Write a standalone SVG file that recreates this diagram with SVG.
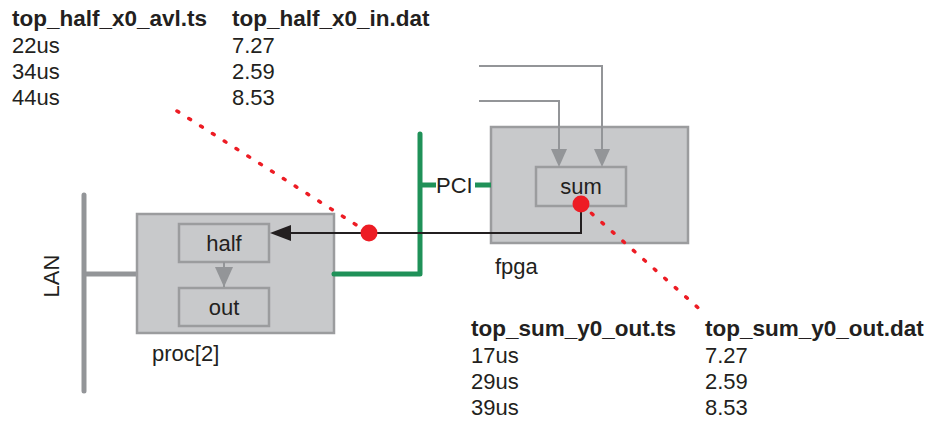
<svg xmlns="http://www.w3.org/2000/svg" width="933" height="423" viewBox="0 0 933 423">
<defs>
<style>
text{font-family:"Liberation Sans",Arial,sans-serif;fill:#231f20;font-size:22px}
.b{font-weight:bold;font-size:22.5px}
.box{fill:#c8c9cb;stroke:#9b9c9e;stroke-width:2.5}
.gray{fill:none;stroke:#939598;stroke-width:2}
.bus{fill:none;stroke:#939598;stroke-width:5;stroke-linecap:round}
.green{fill:none;stroke:#1f9158;stroke-width:5;stroke-linecap:round;stroke-linejoin:round}
.red{fill:none;stroke:#ed1c24;stroke-width:3.5;stroke-linecap:round;stroke-dasharray:2 12}
</style>
</defs>
<g id="tables">
<text class="b" x="12" y="26">top_half_x0_avl.ts</text>
<text x="12" y="53">22us</text>
<text x="12" y="79">34us</text>
<text x="12" y="105">44us</text>
<text class="b" x="232" y="26">top_half_x0_in.dat</text>
<text x="232" y="53">7.27</text>
<text x="232" y="79">2.59</text>
<text x="232" y="105">8.53</text>
<text class="b" x="471" y="336">top_sum_y0_out.ts</text>
<text x="471" y="363">17us</text>
<text x="471" y="389">29us</text>
<text x="471" y="415">39us</text>
<text class="b" x="705" y="336">top_sum_y0_out.dat</text>
<text x="705" y="363">7.27</text>
<text x="705" y="389">2.59</text>
<text x="705" y="415">8.53</text>
</g>
<g id="lan">
<line class="bus" x1="84" y1="195" x2="84" y2="391"/>
<line class="bus" x1="84" y1="274" x2="137" y2="274" style="stroke-linecap:butt"/>
<text transform="translate(59,276) rotate(-90)" text-anchor="middle">LAN</text>
</g>
<g id="proc">
<rect class="box" x="137" y="214" width="197" height="119"/>
<text x="152" y="361">proc[2]</text>
</g>
<g id="half">
<rect class="box" x="179" y="224" width="90" height="38"/>
<text x="224" y="251" text-anchor="middle">half</text>
</g>
<g id="out">
<rect class="box" x="179" y="288" width="90" height="38"/>
<text x="224" y="315" text-anchor="middle">out</text>
</g>
<g id="fpga">
<rect class="box" x="491" y="127" width="197" height="116"/>
<text x="495" y="274">fpga</text>
</g>
<g id="sum">
<rect class="box" x="536" y="167" width="90" height="39"/>
<text x="581" y="194" text-anchor="middle">sum</text>
</g>
<g id="connectors">
<path d="M224,262V287" fill="none" stroke="#939598" stroke-width="2"/>
<path d="M215,267L224,287L233,267z" fill="#939598"/>
<path class="gray" d="M479,66H602V150"/>
<path d="M594,149L602,167L610,149z" fill="#939598"/>
<path class="gray" d="M479,101H559V150"/>
<path d="M551,149L559,167L567,149z" fill="#939598"/>
<path class="green" d="M334,274H420V134"/>
<path class="green" d="M420,185H436" style="stroke-linecap:butt"/>
<path class="green" d="M475,185H491" style="stroke-linecap:butt"/>
<text x="436" y="193">PCI</text>
<path d="M581,206V233H290" fill="none" stroke="#231f20" stroke-width="2"/>
<path d="M270,233L291,225L291,241z" fill="#231f20"/>
<line class="red" x1="177" y1="111" x2="369" y2="233"/>
<line class="red" x1="581" y1="204" x2="704" y2="313"/>
<circle cx="369" cy="233" r="8.5" fill="#ed1c24"/>
<circle cx="581" cy="204" r="8.5" fill="#ed1c24"/>
</g>
</svg>
